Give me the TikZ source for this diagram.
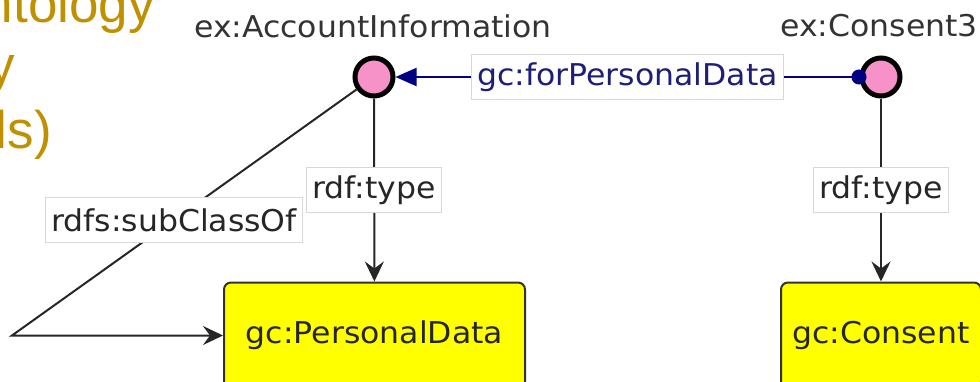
\documentclass[tikz,border=0pt]{standalone}
\usepackage{fontspec}
\usetikzlibrary{arrows.meta}
\newfontfamily\graphfont[FakeStretch=1.05]{DejaVu Sans}
\newfontfamily\slidefont{Liberation Sans}
\definecolor{nodepink}{RGB}{246,146,200}
\definecolor{classyellow}{RGB}{255,255,0}
\definecolor{propnavy}{RGB}{0,0,128}
\definecolor{proptext}{RGB}{30,30,120}
\definecolor{slidegold}{RGB}{191,144,0}
\definecolor{lblgray}{RGB}{216,216,216}
\def\graphsize{\fontsize{30}{36}\selectfont}
\tikzset{
  indiv/.style={circle, draw=black, line width=5pt, fill=nodepink, minimum size=38pt, inner sep=0pt},
  indivname/.style={anchor=base, inner sep=0pt, text=black!80, font=\graphfont\graphsize},
  classbox/.style={rectangle, rounded corners=7pt, draw=black!80, line width=2pt, fill=classyellow,
    minimum width=301pt, minimum height=106pt, text=black!85, font=\graphfont\graphsize},
  edgelbl/.style={rectangle, draw=lblgray, line width=1pt, fill=white, inner xsep=6pt, inner ysep=0pt,
    minimum height=45pt, text=black!85, font=\graphfont\graphsize},
  typeedge/.style={draw=black!85, line width=2pt, -{Stealth[length=20pt,width=19pt,inset=7pt]}},
  propedge/.style={draw=propnavy, line width=2pt, {Circle[length=15pt]}-{Triangle[length=21pt,width=18pt]}, shorten <=-7pt},
  slidetxt/.style={anchor=base east, inner sep=0pt, text=slidegold, font=\slidefont\fontsize{53}{60}\selectfont}
}
\begin{document}
\begin{tikzpicture}[x=1pt,y=-1pt]
	%%%%% START %%%%%
	\useasboundingbox (0,0) rectangle (980,381);
	
	% slide title, cut by the frame
	\node[slidetxt] (titleA) at (155,22) {ntology};
	\node[slidetxt] (titleB) at (15,83) {y};
	\node[slidetxt] (titleC) at (52,148) {ls)};
	
	% individuals
	\node[indiv] (acc) at (374,77) {};
	\node[indivname] (accname) at (373,37) {ex:AccountInformation};
	\node[indiv] (con3) at (881,77) {};
	\node[indivname] (con3name) at (879,36) {ex:Consent3};
	
	% classes
	\node[classbox] (pdata) at (374.5,335.5) {gc:PersonalData};
	\node[classbox, minimum width=200pt] (consent) at (881,335.5) {gc:Consent};
	\coordinate (bend) at (12,335.5);
	
	% edges
	\draw[typeedge] (acc) -- node[edgelbl] (acctype) {rdf:type} (pdata);
	\draw[typeedge] (con3) -- node[edgelbl] (con3type) {rdf:type} (consent);
	\draw[typeedge] (acc) -- node[edgelbl, pos=0.53] (subcls) {rdfs:subClassOf} (bend) -- (pdata);
	\draw[propedge] (con3) -- node[edgelbl, text=proptext] (forpd) {gc:forPersonalData} (acc);
	
	%%%%% END %%%%%
\end{tikzpicture}
\end{document}
